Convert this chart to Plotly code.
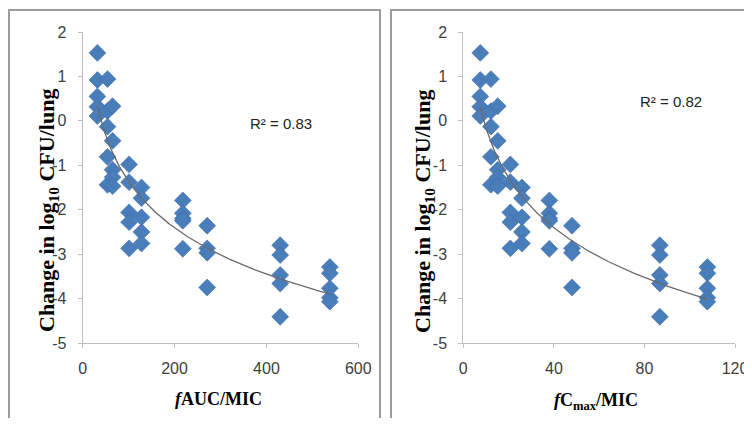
import numpy as np
import plotly.graph_objects as go

# ---- data ----
fauc_mic_groups = [32, 54, 65, 101, 128, 218, 271, 430, 538]
fcmax_mic_groups = [7.5, 12.2, 15.2, 20.8, 25.9, 38, 48, 86.8, 107.8]
change_log10 = [
    [1.53, 0.92, 0.55, 0.32, 0.11],
    [0.94, 0.22, -0.13, -0.81, -1.44],
    [0.33, -0.45, -1.10, -1.27, -1.47],
    [-0.98, -1.38, -2.06, -2.28, -2.87],
    [-1.50, -1.74, -2.17, -2.50, -2.76],
    [-1.79, -2.08, -2.20, -2.25, -2.88],
    [-2.36, -2.87, -2.97, -3.75],
    [-2.80, -3.02, -3.47, -3.66, -4.41],
    [-3.29, -3.43, -3.77, -3.98, -4.07],
]
r2_labels = ["R² = 0.83", "R² = 0.82"]
x_ticks_auc = [0, 200, 400, 600]
x_ticks_cmax = [0, 40, 80, 120]
y_ticks = [-5, -4, -3, -2, -1, 0, 1, 2]
y_tick_text = ["-5", "-4", "-3", "-2", "-1", "0", "1", "2"]

y_all = [v for grp in change_log10 for v in grp]
x_auc = [x for x, grp in zip(fauc_mic_groups, change_log10) for _ in grp]
x_cmax = [x for x, grp in zip(fcmax_mic_groups, change_log10) for _ in grp]


def log_trend(xs, ys):
    xs = np.asarray(xs, float)
    ys = np.asarray(ys, float)
    a, b = np.polyfit(np.log(xs), ys, 1)
    xx = np.linspace(xs.min(), xs.max(), 200)
    return xx, a * np.log(xx) + b


OFF = 8  # default page body margin
W, H = 752 - OFF, 410


def PX(x):
    return (x - OFF) / W


def PY(y):
    return 1 - (y - OFF) / H


fig = go.Figure()

marker = dict(symbol="diamond", size=13, color="#4a7ebb",
              line=dict(color="#3a6aa8", width=0.6))

for xs, xa, ya in [(x_auc, "x", "y"), (x_cmax, "x2", "y2")]:
    fig.add_trace(go.Scatter(x=xs, y=y_all, mode="markers", marker=marker,
                             xaxis=xa, yaxis=ya, showlegend=False, hoverinfo="skip"))
    tx, ty = log_trend(xs, y_all)
    fig.add_trace(go.Scatter(x=tx, y=ty, mode="lines",
                             line=dict(color="#6b6b6b", width=1.3),
                             xaxis=xa, yaxis=ya, showlegend=False, hoverinfo="skip"))

tick_font = dict(family="Liberation Sans Narrow, Arial Narrow, Liberation Sans",
                 size=16, color="#404040")
ax_common = dict(showgrid=False, zeroline=False, showline=True, linecolor="#bfbfbf",
                 linewidth=1, ticks="outside", tickcolor="#bfbfbf", ticklen=4,
                 tickfont=tick_font, automargin=False)

fig.update_layout(
    width=W, height=H, margin=dict(l=0, r=0, t=0, b=0, pad=0, autoexpand=False),
    paper_bgcolor="white", plot_bgcolor="white",
    xaxis=dict(domain=[PX(82.7), PX(358.3)], range=[0, 600], tickvals=x_ticks_auc,
               anchor="y", ticklabelstandoff=7, **ax_common),
    yaxis=dict(domain=[PY(343), PY(32)], range=[-5, 2], tickvals=y_ticks,
               ticktext=y_tick_text, anchor="x", ticklabelstandoff=8, **ax_common),
    xaxis2=dict(domain=[PX(463.3), PX(735)], range=[0, 120], tickvals=x_ticks_cmax,
                anchor="y2", ticklabelstandoff=7, **ax_common),
    yaxis2=dict(domain=[PY(343), PY(32)], range=[-5, 2], tickvals=y_ticks,
                ticktext=y_tick_text, anchor="x2", ticklabelstandoff=8, **ax_common),
)

# panel frames
frame = dict(color="#9c9c9c", width=2)
fig.add_shape(type="rect", xref="paper", yref="paper",
              x0=PX(9), x1=PX(380), y0=-0.2, y1=PY(10), line=frame)
fig.add_shape(type="rect", xref="paper", yref="paper",
              x0=PX(391), x1=1.2, y0=-0.2, y1=PY(10), line=frame)

serif = "Liberation Serif, Times New Roman, serif"
ytitle = "<b>Change in log<sub>10</sub> CFU/lung</b>"
for xc in [48, 424]:
    fig.add_annotation(x=PX(xc), y=PY(211), xref="paper", yref="paper",
                       xanchor="center", yanchor="middle",
                       text=ytitle, textangle=-90, showarrow=False,
                       font=dict(family=serif, size=22, color="black"))

fig.add_annotation(x=PX(218), y=PY(399), xref="paper", yref="paper",
                   xanchor="center", yanchor="middle",
                   text="<b><i>f</i>AUC/MIC</b>", showarrow=False,
                   font=dict(family=serif, size=18, color="black"))
fig.add_annotation(x=PX(596), y=PY(401), xref="paper", yref="paper",
                   xanchor="center", yanchor="middle",
                   text="<b><i>f</i>C<sub>max</sub>/MIC</b>", showarrow=False,
                   font=dict(family=serif, size=18, color="black"))

r2_font = dict(family="Liberation Sans Narrow, Arial Narrow, Liberation Sans",
               size=15, color="#222222")
fig.add_annotation(x=PX(281), y=PY(123), xref="paper", yref="paper",
                   xanchor="center", yanchor="middle",
                   text=r2_labels[0], showarrow=False, font=r2_font)
fig.add_annotation(x=PX(671), y=PY(102), xref="paper", yref="paper",
                   xanchor="center", yanchor="middle",
                   text=r2_labels[1], showarrow=False, font=r2_font)

fig.write_html("out.html")
